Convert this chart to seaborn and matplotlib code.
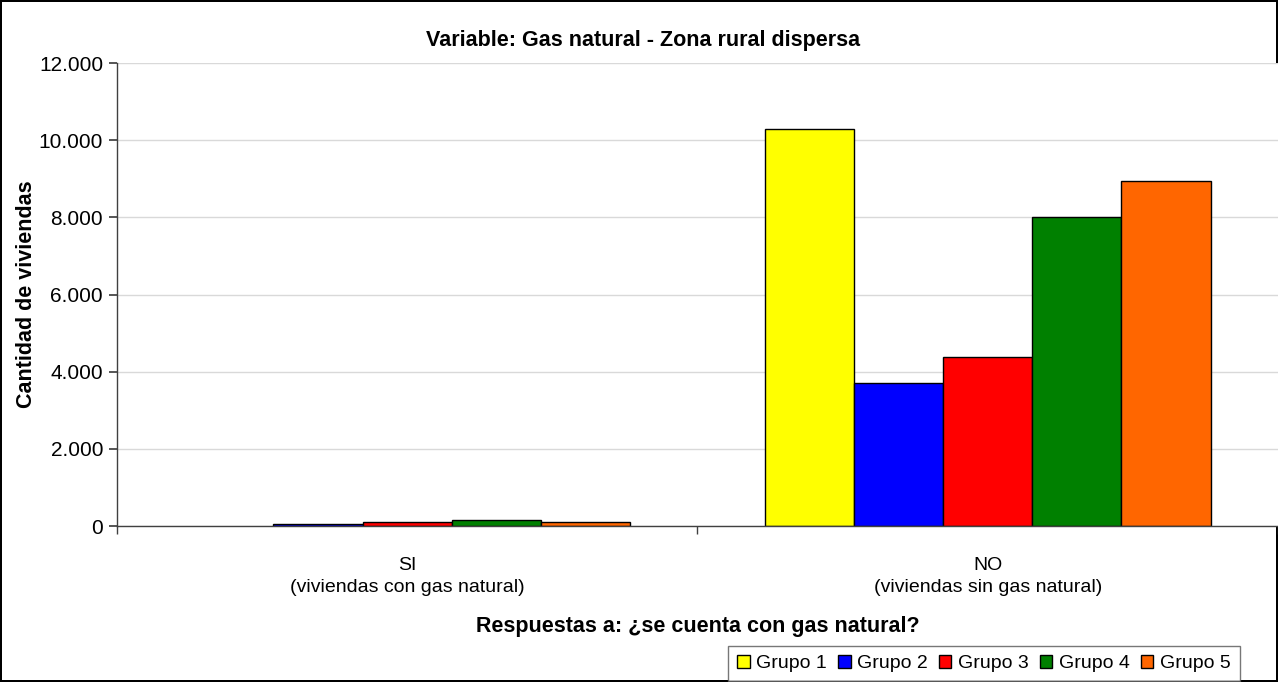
"""
Bar chart: Gas natural - Zona rural dispersa.
"""

import matplotlib
matplotlib.use('Agg')
import matplotlib.pyplot as plt
from matplotlib.ticker import FuncFormatter, FixedLocator
import seaborn as sns
import pandas as pd

categories = ['SI\n(viviendas con gas natural)', 'NO\n(viviendas sin gas natural)']
groups = ['Grupo 1', 'Grupo 2', 'Grupo 3', 'Grupo 4', 'Grupo 5']
si_values = [0, 40, 110, 160, 100]
no_values = [10290, 3700, 4380, 8000, 8950]
colors = ['#FFFF00', '#0000FF', '#FF0000', '#008000', '#FF6600']

df = pd.DataFrame({
    'categoria': [categories[0]] * 5 + [categories[1]] * 5,
    'grupo': groups * 2,
    'valor': si_values + no_values,
})

sns.set_theme(style='white')
plt.rcParams['font.family'] = ['Liberation Sans', 'DejaVu Sans']
plt.rcParams.update({'text.color': 'black', 'axes.labelcolor': 'black',
                     'xtick.color': 'black', 'ytick.color': 'black'})

fig = plt.figure(figsize=(12.78, 6.82), dpi=100, edgecolor='black', linewidth=1.5)
ax = fig.add_axes([0.0915, 0.2287, 0.9085, 0.6789])

sns.barplot(data=df, x='categoria', y='valor', hue='grupo', palette=colors,
            width=0.768, edgecolor='black', linewidth=1, saturation=1,
            ax=ax, legend=False)

# zero-height bars are not drawn in the original
for p in ax.patches:
    if p.get_height() == 0:
        p.set_linewidth(0)

ax.set_ylim(0, 12000)
ax.set_xlim(-0.5, 1.5)
ax.set_yticks(range(0, 12001, 2000))
ax.yaxis.set_major_formatter(FuncFormatter(lambda v, p: f'{int(v):,}'.replace(',', '.')))
ax.yaxis.grid(True, color='#d9d9d9', linewidth=1)
ax.set_axisbelow(True)

for side in ['top', 'right']:
    ax.spines[side].set_visible(False)
for side in ['left', 'bottom']:
    ax.spines[side].set_color('#404040')
    ax.spines[side].set_linewidth(1)

ax.tick_params(axis='y', which='major', direction='out', length=6, color='#404040',
               left=True, labelsize=15, pad=4)
ax.tick_params(axis='x', which='major', length=0, labelsize=14, pad=22)
ax.xaxis.set_minor_locator(FixedLocator([-0.5, 0.5, 1.5]))
ax.tick_params(axis='x', which='minor', direction='out', length=6, color='#404040', bottom=True)
for lbl in ax.get_xticklabels():
    lbl.set_linespacing(1.45)

ax.set_xlabel('Respuestas a: ¿se cuenta con gas natural?', fontsize=15.5,
              fontweight='bold', labelpad=14)
ax.set_ylabel('Cantidad de viviendas', fontsize=15.5, fontweight='bold', labelpad=1)
fig.text(0.503, 0.941, 'Variable: Gas natural - Zona rural dispersa', ha='center',
         va='center', fontsize=15.5, fontweight='bold')

handles = [plt.Rectangle((0, 0), 1, 1, facecolor=c, edgecolor='black', linewidth=1)
           for c in colors]
leg = fig.legend(handles, groups, loc='lower right', bbox_to_anchor=(0.973, -0.004),
                 ncol=5, fontsize=14, frameon=True, fancybox=False, handlelength=0.65,
                 handleheight=0.65, handletextpad=0.35, columnspacing=0.55,
                 borderpad=0.45, borderaxespad=0.2)
leg.get_frame().set_edgecolor('#555555')
leg.get_frame().set_linewidth(1)

fig.savefig('out.png', dpi=100, edgecolor=fig.get_edgecolor())
plt.close(fig)
